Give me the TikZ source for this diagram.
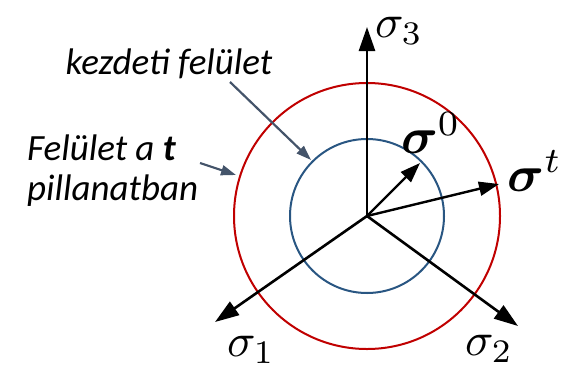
\documentclass[tikz,border=0pt]{standalone}
\usepackage{graphicx}
\usepackage{amsmath,bm}
\usepackage{fontspec}
\setmainfont{Carlito}
\usetikzlibrary{arrows.meta}
\definecolor{redc}{RGB}{192,0,0}
\definecolor{bluec}{RGB}{41,86,130}
\definecolor{pointc}{RGB}{68,84,106}
\newcommand{\mylbl}[1]{\scalebox{4.7}{$#1$}}
\newcommand{\mybold}[1]{\scalebox{5.1}{$#1$}}
\begin{document}
\begin{tikzpicture}[x=1pt,y=-1pt,
  axis/.style={line width=2.6pt,-{Triangle[length=24pt,width=16pt]}},
  vec/.style={line width=2.4pt,-{Triangle[length=20pt,width=14pt]}},
  pointer/.style={pointc,line width=2.2pt,-{Triangle[length=15pt,width=10pt]}},
  lbl/.style={inner sep=0pt},
  ann/.style={font=\fontsize{37}{44}\selectfont\itshape,align=left}]
\useasboundingbox (0,0) rectangle (562,370);
\coordinate (O) at (367,216);
\draw[redc,line width=2pt] (O) circle[radius=133];
\draw[bluec,line width=2pt] (O) circle[radius=77];
\coordinate (t3) at (367,27);
\coordinate (t1) at (215,322);
\coordinate (t2) at (518,326);
\coordinate (t0) at (420,163);
\coordinate (tt) at (499,184);
\draw[axis] (O) -- (t3);
\draw[axis] (O) -- (t1);
\draw[axis] (O) -- (t2);
\draw[vec] (O) -- (t0);
\draw[vec] (O) -- (tt);
\node[lbl] (l3) at (399,31) {\mylbl{\sigma_3}};
\node[lbl] (l1) at (251,350) {\mylbl{\sigma_1}};
\node[lbl] (l2) at (489,349) {\mylbl{\sigma_2}};
\node[lbl] (l0) at (431,133) {\mybold{\bm{\sigma}^0}};
\node[lbl] (lt) at (535,171) {\mybold{\bm{\sigma}^t}};
\node[ann,anchor=base] (k) at (169,74) {kezdeti felület};
\node[ann,anchor=base west,inner sep=0pt] (f) at (27,160) {Felület a \textbf{t}};
\node[ann,anchor=base west,inner sep=0pt] (p) at (27,200) {pillanatban};
\coordinate (k1) at (230,82);
\coordinate (k2) at (311,160);
\coordinate (f1) at (200,163);
\coordinate (f2) at (236,175);
\draw[pointer] (k1) -- (k2);
\draw[pointer] (f1) -- (f2);
\end{tikzpicture}
\end{document}
